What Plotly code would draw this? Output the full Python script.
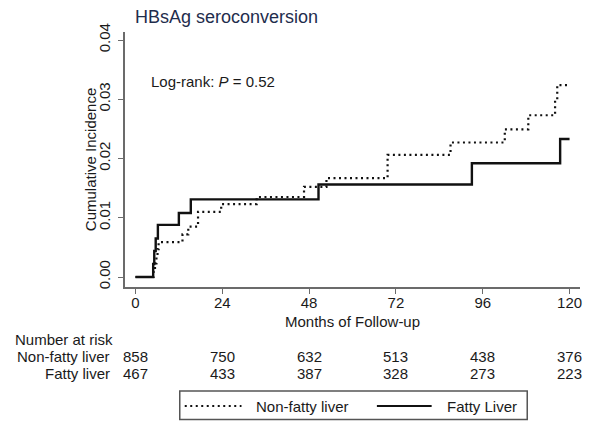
import plotly.graph_objects as go

# ---- data ----
months_nonfatty = [0, 5.0, 5.4, 5.8, 6.1, 6.4, 13.0, 14.6, 17.3, 23.7, 33.5, 46.6,
                   52.8, 69.7, 87.1, 102.1, 108.6, 116.0, 116.6, 120]
cuminc_nonfatty = [0, 0.0012, 0.0023, 0.0035, 0.0047, 0.0059, 0.0072, 0.0085, 0.0110,
                   0.0123, 0.0135, 0.0152, 0.0167, 0.0206, 0.0227, 0.0249, 0.0273,
                   0.0298, 0.0324, 0.0324]
months_fatty = [0, 4.9, 5.2, 5.6, 6.2, 12.0, 15.3, 50.6, 93.0, 117.4, 120]
cuminc_fatty = [0, 0.0022, 0.0044, 0.0065, 0.0088, 0.0108, 0.0131, 0.0156, 0.0192,
                0.0233, 0.0233]

risk_times = [0, 24, 48, 72, 96, 120]
risk_nonfatty = [858, 750, 632, 513, 438, 376]
risk_fatty = [467, 433, 387, 328, 273, 223]
y_ticks = [0.00, 0.01, 0.02, 0.03, 0.04]

FONT = "Liberation Sans, Arial, Helvetica, sans-serif"
TXT = "#1a1a1a"
AX = "#6b6b6b"

# plot-area pixel geometry
L, R, T, B = 125, 582, 32, 287
W, H = R - L, B - T


def px(x):
    return (x - L) / W


def py(y):
    return (B - y) / H


fig = go.Figure()
fig.add_trace(go.Scatter(x=months_nonfatty, y=cuminc_nonfatty, mode="lines",
                         line=dict(shape="hv", color="#111111", width=2.2, dash="2px,3.5px"),
                         name="Non-fatty liver", showlegend=False))
fig.add_trace(go.Scatter(x=months_fatty, y=cuminc_fatty, mode="lines",
                         line=dict(shape="hv", color="#111111", width=2.4),
                         name="Fatty Liver", showlegend=False))

annotations = []
# title
annotations.append(dict(text="HBsAg seroconversion", x=px(133), y=py(17), xref="paper", yref="paper",
                        xanchor="left", yanchor="middle", showarrow=False,
                        font=dict(family=FONT, size=18, color="#1f2d4d")))
# log-rank
annotations.append(dict(text="Log-rank: <i>P</i> = 0.52", x=px(149), y=py(81), xref="paper", yref="paper",
                        xanchor="left", yanchor="middle", showarrow=False,
                        font=dict(family=FONT, size=15, color=TXT)))
# y title
annotations.append(dict(text="Cumulative Incidence", x=px(90.5), y=0.5, xref="paper", yref="paper",
                        xanchor="center", yanchor="middle", textangle=-90, showarrow=False,
                        font=dict(family=FONT, size=15, color=TXT)))
# x title
annotations.append(dict(text="Months of Follow-up", x=0.5, y=py(321.5), xref="paper", yref="paper",
                        xanchor="center", yanchor="middle", showarrow=False,
                        font=dict(family=FONT, size=15, color=TXT)))
# risk table
annotations.append(dict(text="Number at risk", x=px(12.5), y=py(339), xref="paper", yref="paper",
                        xanchor="left", yanchor="middle", showarrow=False,
                        font=dict(family=FONT, size=15, color=TXT)))
annotations.append(dict(text="Non-fatty liver", x=px(112), y=py(356.5), xref="paper", yref="paper",
                        xanchor="right", yanchor="middle", showarrow=False,
                        font=dict(family=FONT, size=15, color=TXT)))
annotations.append(dict(text="Fatty liver", x=px(112), y=py(373.3), xref="paper", yref="paper",
                        xanchor="right", yanchor="middle", showarrow=False,
                        font=dict(family=FONT, size=15, color=TXT)))
for t, n1, n2 in zip(risk_times, risk_nonfatty, risk_fatty):
    annotations.append(dict(text=str(n1), x=t, y=py(356.5), xref="x", yref="paper",
                            xanchor="center", yanchor="middle", showarrow=False,
                            font=dict(family=FONT, size=15, color=TXT)))
    annotations.append(dict(text=str(n2), x=t, y=py(373.3), xref="x", yref="paper",
                            xanchor="center", yanchor="middle", showarrow=False,
                            font=dict(family=FONT, size=15, color=TXT)))
# legend texts
annotations.append(dict(text="Non-fatty liver", x=px(255), y=py(406), xref="paper", yref="paper",
                        xanchor="left", yanchor="middle", showarrow=False,
                        font=dict(family=FONT, size=15, color=TXT)))
annotations.append(dict(text="Fatty Liver", x=px(446), y=py(406), xref="paper", yref="paper",
                        xanchor="left", yanchor="middle", showarrow=False,
                        font=dict(family=FONT, size=15, color=TXT)))

shapes = [
    dict(type="rect", xref="paper", yref="paper", x0=px(180), x1=px(529), y0=py(391), y1=py(419.5),
         line=dict(color="#555555", width=1.5), fillcolor="rgba(0,0,0,0)"),
    dict(type="line", xref="paper", yref="paper", x0=px(185), x1=px(242), y0=py(406), y1=py(406),
         line=dict(color="#111111", width=2, dash="2px,3.5px")),
    dict(type="line", xref="paper", yref="paper", x0=px(378), x1=px(433), y0=py(406), y1=py(406),
         line=dict(color="#111111", width=2)),
]

# axis ranges to place 0 at x=135.5px, 120 at 571.5px; 0 at y=277px, 0.04 at y=40px
xscale = (571.5 - 135.5) / 120.0
xmin = -(135.5 - L) / xscale
xmax = xmin + W / xscale
yscale = (277 - 40) / 0.04
ymin = -(B - 277) / yscale
ymax = ymin + H / yscale

fig.update_layout(
    width=593, height=422,
    margin=dict(l=L, r=593 - R, t=T, b=422 - B, pad=0),
    paper_bgcolor="white", plot_bgcolor="white",
    font=dict(family=FONT, size=15, color=TXT),
    xaxis=dict(range=[xmin, xmax], tickvals=risk_times, ticktext=[str(t) for t in risk_times],
               showgrid=False, zeroline=False, showline=True, linecolor=AX, linewidth=1.5,
               ticks="outside", ticklen=5, tickwidth=1.3, tickcolor=AX, ticklabelstandoff=-4,
               tickfont=dict(family=FONT, size=15, color=TXT)),
    yaxis=dict(range=[ymin, ymax], tickvals=y_ticks, ticktext=[f"{v:.2f}" for v in y_ticks],
               showgrid=False, zeroline=False, showline=True, linecolor=AX, linewidth=1.5,
               ticks="outside", ticklen=5, tickwidth=1.3, tickcolor=AX, tickangle=-90,
               ticklabelstandoff=2,
               tickfont=dict(family=FONT, size=15, color=TXT)),
    annotations=annotations,
    shapes=shapes,
    showlegend=False,
)

fig.write_html("out.html")
